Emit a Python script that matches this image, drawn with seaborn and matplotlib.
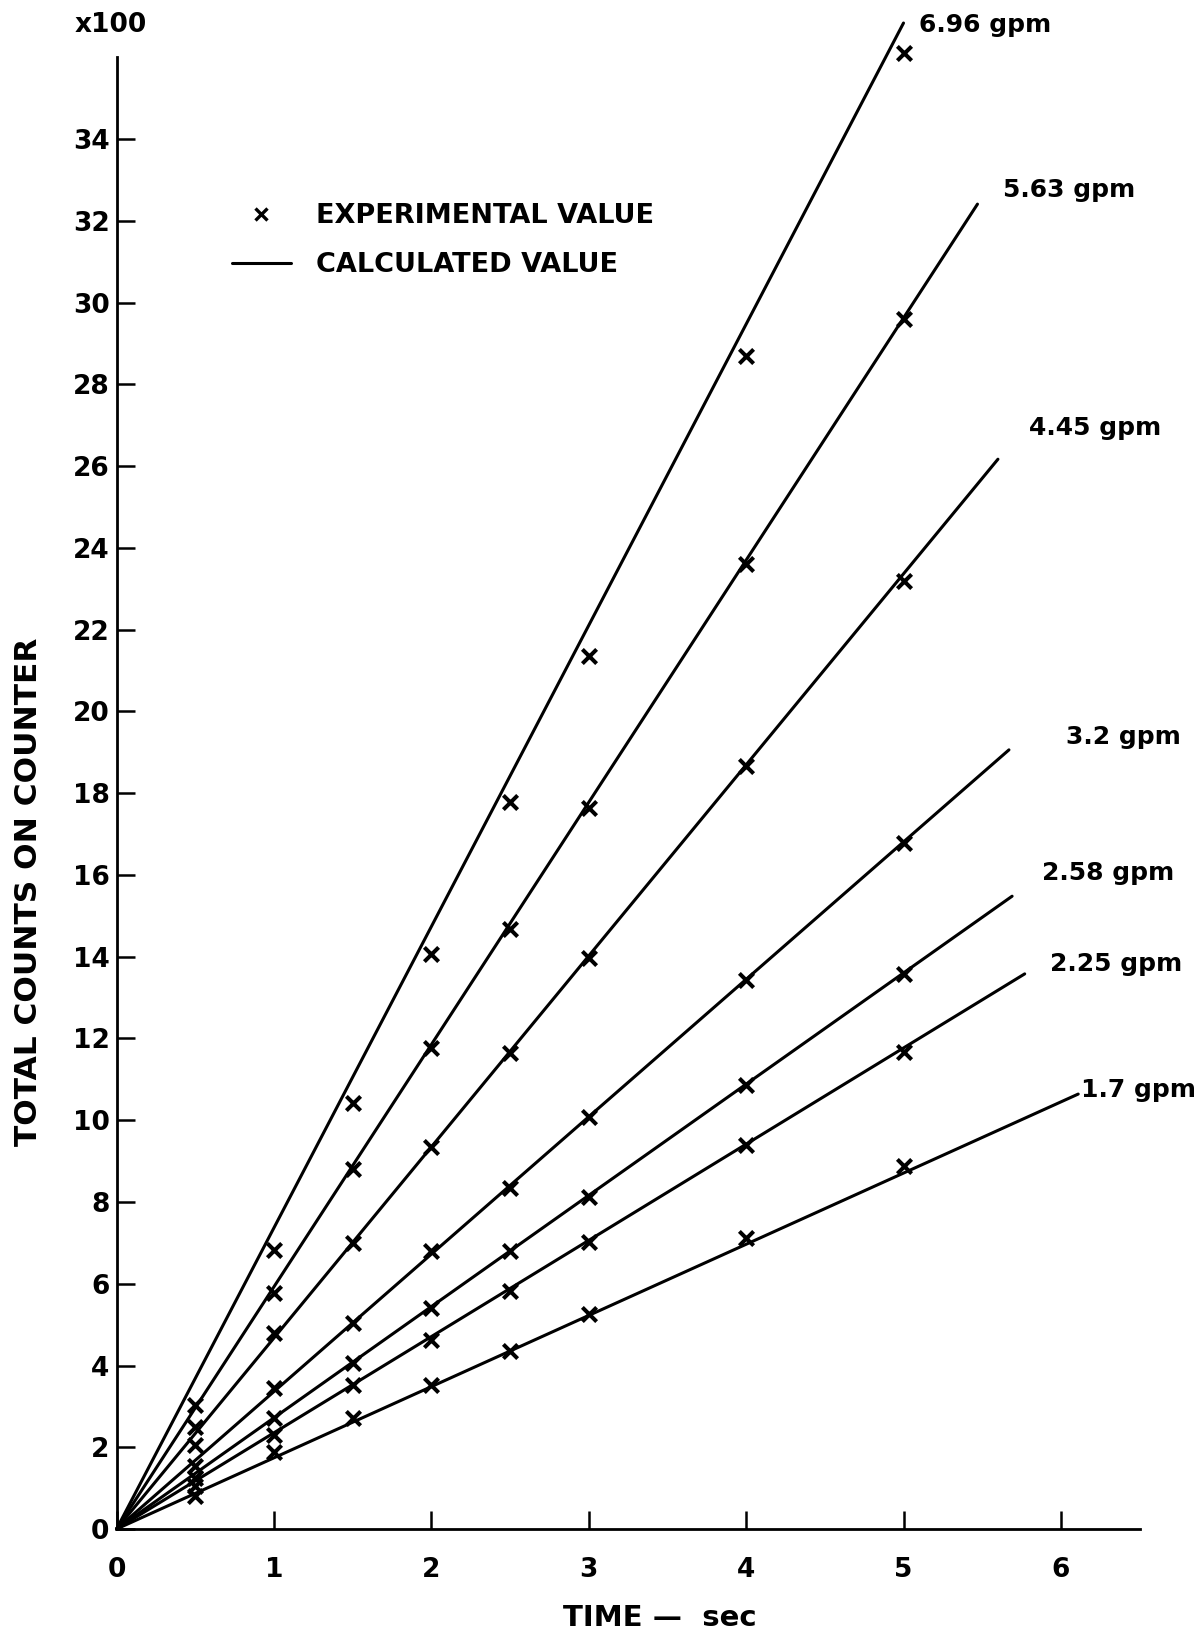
import numpy as np
import pandas as pd
import matplotlib
matplotlib.use("Agg")
import matplotlib.pyplot as plt
import seaborn as sns
from matplotlib.lines import Line2D

# ---------------- data (counts in hundreds) ----------------
flows = ["6.96 gpm", "5.63 gpm", "4.45 gpm", "3.2 gpm", "2.58 gpm", "2.25 gpm", "1.7 gpm"]
times = [0.5, 1, 1.5, 2, 2.5, 3, 4, 5]
exp_696 = [3.03, 6.82, 10.41, 14.07, 17.78, 21.36, 28.70, 36.10]
exp_563 = [2.50, 5.77, 8.80, 11.77, 14.68, 17.65, 23.61, 29.60]
exp_445 = [2.05, 4.79, 7.00, 9.34, 11.64, 13.97, 18.67, 23.18]
exp_320 = [1.55, 3.45, 5.04, 6.80, 8.34, 10.08, 13.43, 16.78]
exp_258 = [1.25, 2.72, 4.06, 5.40, 6.80, 8.11, 10.85, 13.58]
exp_225 = [1.05, 2.30, 3.52, 4.63, 5.83, 7.03, 9.39, 11.67]
exp_170 = [0.80, 1.88, 2.72, 3.53, 4.35, 5.27, 7.11, 8.88]
calc_end_time = [5.00, 5.47, 5.60, 5.67, 5.69, 5.77, 6.11]
calc_end_counts = [36.84, 32.41, 26.17, 19.06, 15.48, 13.58, 10.64]
y_ticks = list(range(0, 35, 2))
x_ticks = [0, 1, 2, 3, 4, 5, 6]

exp_series = [exp_696, exp_563, exp_445, exp_320, exp_258, exp_225, exp_170]

# label anchor positions (data coords) for the flow-rate annotations
label_pos = [(5.10, 36.79), (5.63, 32.75), (5.80, 26.93), (6.03, 19.37),
             (5.88, 16.05), (5.93, 13.82), (6.13, 10.74)]

# ---------------- build frames ----------------
exp_df = pd.DataFrame([
    {"flow": f, "time": t, "counts": c}
    for f, s in zip(flows, exp_series) for t, c in zip(times, s)
])
line_rows = []
for f, te, ce in zip(flows, calc_end_time, calc_end_counts):
    line_rows.append({"flow": f, "time": 0.0, "counts": 0.0})
    line_rows.append({"flow": f, "time": te, "counts": ce})
line_df = pd.DataFrame(line_rows)

# ---------------- figure ----------------
sns.set_theme(style="ticks")
plt.rcParams["font.family"] = ["DejaVu Sans"]
plt.rcParams["font.weight"] = "bold"
plt.rcParams["text.color"] = "black"
plt.rcParams["axes.labelcolor"] = "black"
plt.rcParams["xtick.color"] = "black"
plt.rcParams["ytick.color"] = "black"

fig = plt.figure(figsize=(12.04, 16.39), dpi=100)
ax = fig.add_axes([0.0968, 0.0671, 0.8497, 0.8979])

sns.lineplot(data=line_df, x="time", y="counts", units="flow", estimator=None,
             color="black", linewidth=2.2, sort=False, legend=False, ax=ax)
sns.scatterplot(data=exp_df, x="time", y="counts", marker="x", color="black",
                s=105, linewidth=2.9, legend=False, ax=ax, zorder=3)

for ln in ax.lines:
    ln.set_clip_on(False)
for coll in ax.collections:
    coll.set_clip_on(False)

ax.set_xlim(0, 6.5)
ax.set_ylim(0, 36)
ax.set_xticks(x_ticks)
ax.set_yticks(y_ticks)
ax.set_xticklabels([str(v) for v in x_ticks])
ax.set_yticklabels([str(v) for v in y_ticks])

sns.despine(ax=ax)
for side in ("left", "bottom"):
    ax.spines[side].set_linewidth(2.0)
    ax.spines[side].set_color("black")

ax.tick_params(axis="both", direction="in", length=13, width=1.8, colors="black",
               labelsize=19)
ax.tick_params(axis="y", pad=5)
ax.tick_params(axis="x", pad=20)
for lab in ax.get_xticklabels() + ax.get_yticklabels():
    lab.set_fontweight("bold")
    lab.set_color("black")

ax.set_xlabel("")
ax.set_ylabel("")
fig.text(0.548, 0.0128, "TIME —  sec", ha="center", va="center",
         fontsize=21, fontweight="bold", color="black")
fig.text(0.0235, 0.456, "TOTAL COUNTS ON COUNTER", ha="center", va="center",
         rotation=90, fontsize=22.5, fontweight="bold", color="black")
fig.text(0.092, 0.985, "x100", ha="center", va="center", fontsize=19,
         fontweight="bold", color="black")

for name, (lx, ly) in zip(flows, label_pos):
    ax.text(lx, ly, name, ha="left", va="center", fontsize=18,
            fontweight="bold", color="black", clip_on=False)

handles = [
    Line2D([], [], marker="x", color="black", linestyle="none",
           markersize=8, markeredgewidth=2.4),
    Line2D([], [], color="black", linewidth=2.2),
]
leg = ax.legend(handles, ["EXPERIMENTAL VALUE", "CALCULATED VALUE"],
                loc="upper left", bbox_to_anchor=(0.1927, 0.876),
                bbox_transform=fig.transFigure, frameon=False,
                borderpad=0, borderaxespad=0, handlelength=2.16,
                handletextpad=0.95, labelspacing=0.84,
                prop={"size": 19.5, "weight": "bold"})
for t in leg.get_texts():
    t.set_color("black")

ax.set_facecolor("white")
fig.patch.set_facecolor("white")
fig.savefig("out.png", dpi=100, facecolor="white")
